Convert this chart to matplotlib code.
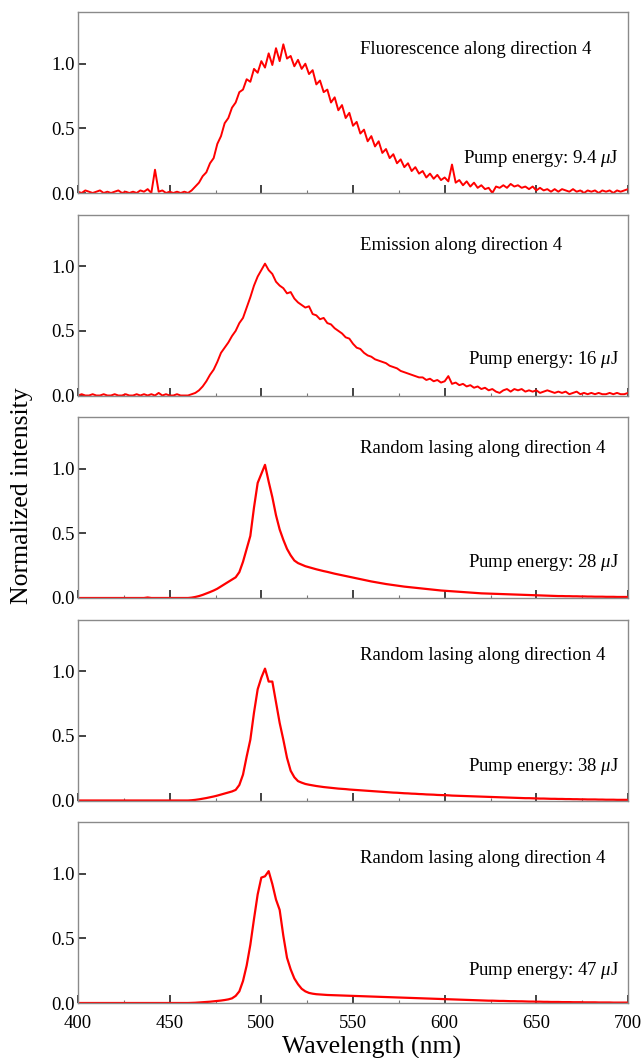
import numpy as np
import matplotlib
matplotlib.use('Agg')
from matplotlib import pyplot as plt
from matplotlib.ticker import MultipleLocator

plt.rcParams['font.family'] = ['Liberation Serif', 'DejaVu Serif']
plt.rcParams['mathtext.fontset'] = 'custom'
plt.rcParams['mathtext.rm'] = 'Liberation Serif'
plt.rcParams['mathtext.it'] = 'Liberation Serif:italic'

# wavelength grid, 2 nm steps
wavelength = np.arange(400, 701, 2)

# spectra (rows of 10 = 20 nm)
fluor_9p4 = [
    0.01, 0.00, 0.02, 0.01, 0.00, 0.01, 0.02, 0.00, 0.01, 0.00,
    0.01, 0.02, 0.00, 0.01, 0.00, 0.01, 0.00, 0.02, 0.01, 0.03,
    0.00, 0.18, 0.01, 0.02, 0.00, 0.01, 0.00, 0.01, 0.00, 0.01,
    0.00, 0.02, 0.05, 0.08, 0.13, 0.16, 0.23, 0.27, 0.38, 0.44,
    0.54, 0.58, 0.66, 0.70, 0.78, 0.80, 0.88, 0.86, 0.96, 0.93,
    1.02, 0.97, 1.08, 0.99, 1.12, 1.02, 1.15, 1.04, 1.06, 0.98,
    1.03, 0.96, 1.00, 0.92, 0.95, 0.84, 0.87, 0.78, 0.80, 0.70,
    0.74, 0.64, 0.68, 0.58, 0.62, 0.52, 0.55, 0.46, 0.49, 0.40,
    0.44, 0.36, 0.40, 0.31, 0.34, 0.27, 0.30, 0.23, 0.26, 0.20,
    0.23, 0.17, 0.20, 0.15, 0.17, 0.12, 0.15, 0.11, 0.14, 0.10,
    0.12, 0.09, 0.22, 0.08, 0.10, 0.06, 0.09, 0.05, 0.08, 0.04,
    0.06, 0.03, 0.04, 0.00, 0.05, 0.04, 0.06, 0.04, 0.07, 0.05,
    0.06, 0.04, 0.05, 0.03, 0.05, 0.02, 0.04, 0.02, 0.03, 0.01,
    0.03, 0.01, 0.03, 0.02, 0.01, 0.03, 0.01, 0.02, 0.00, 0.02,
    0.01, 0.02, 0.00, 0.02, 0.01, 0.02, 0.00, 0.02, 0.01, 0.02,
    0.03]

emis_16 = [
    0.00, 0.01, 0.00, 0.00, 0.01, 0.00, 0.00, 0.01, 0.00, 0.00,
    0.01, 0.00, 0.00, 0.01, 0.00, 0.00, 0.01, 0.00, 0.01, 0.00,
    0.01, 0.00, 0.02, 0.00, 0.01, 0.00, 0.00, 0.01, 0.00, 0.00,
    0.00, 0.01, 0.02, 0.04, 0.07, 0.11, 0.16, 0.20, 0.26, 0.33,
    0.37, 0.41, 0.46, 0.50, 0.56, 0.60, 0.68, 0.76, 0.85, 0.92,
    0.97, 1.02, 0.97, 0.94, 0.88, 0.85, 0.83, 0.79, 0.80, 0.75,
    0.72, 0.70, 0.68, 0.69, 0.63, 0.62, 0.59, 0.60, 0.56, 0.55,
    0.52, 0.50, 0.48, 0.45, 0.44, 0.40, 0.37, 0.36, 0.33, 0.31,
    0.30, 0.28, 0.27, 0.26, 0.25, 0.23, 0.22, 0.21, 0.19, 0.18,
    0.17, 0.16, 0.15, 0.14, 0.14, 0.12, 0.13, 0.11, 0.12, 0.10,
    0.11, 0.15, 0.09, 0.10, 0.08, 0.09, 0.07, 0.08, 0.06, 0.07,
    0.05, 0.06, 0.04, 0.05, 0.03, 0.02, 0.04, 0.05, 0.03, 0.05,
    0.04, 0.05, 0.03, 0.04, 0.03, 0.04, 0.02, 0.03, 0.04, 0.03,
    0.02, 0.03, 0.02, 0.03, 0.01, 0.02, 0.03, 0.01, 0.02, 0.01,
    0.02, 0.01, 0.02, 0.01, 0.01, 0.02, 0.01, 0.02, 0.01, 0.01,
    0.02]

lasing_28 = [
    0.000, 0.000, 0.000, 0.000, 0.000, 0.000, 0.000, 0.000, 0.000, 0.000,
    0.000, 0.000, 0.000, 0.000, 0.000, 0.000, 0.000, 0.000, 0.000, 0.004,
    0.000, 0.000, 0.000, 0.000, 0.000, 0.000, 0.000, 0.000, 0.000, 0.000,
    0.000, 0.003, 0.008, 0.015, 0.024, 0.035, 0.046, 0.058, 0.072, 0.090,
    0.108, 0.125, 0.142, 0.160, 0.200, 0.280, 0.380, 0.480, 0.700, 0.890,
    0.960, 1.030, 0.900, 0.780, 0.640, 0.530, 0.450, 0.380, 0.330, 0.290,
    0.270, 0.258, 0.246, 0.238, 0.230, 0.222, 0.215, 0.208, 0.202, 0.195,
    0.188, 0.182, 0.176, 0.170, 0.164, 0.158, 0.152, 0.146, 0.140, 0.134,
    0.128, 0.123, 0.118, 0.113, 0.108, 0.104, 0.100, 0.096, 0.092, 0.088,
    0.085, 0.082, 0.079, 0.076, 0.073, 0.070, 0.067, 0.064, 0.061, 0.058,
    0.056, 0.054, 0.052, 0.050, 0.048, 0.046, 0.044, 0.042, 0.040, 0.038,
    0.036, 0.035, 0.034, 0.033, 0.032, 0.031, 0.030, 0.029, 0.028, 0.027,
    0.026, 0.025, 0.024, 0.023, 0.022, 0.021, 0.020, 0.019, 0.018, 0.017,
    0.016, 0.015, 0.015, 0.014, 0.014, 0.013, 0.013, 0.012, 0.012, 0.011,
    0.011, 0.010, 0.010, 0.010, 0.009, 0.009, 0.009, 0.008, 0.008, 0.008,
    0.008]

lasing_38 = [
    0.000, 0.000, 0.000, 0.000, 0.000, 0.000, 0.000, 0.000, 0.000, 0.000,
    0.000, 0.000, 0.000, 0.000, 0.000, 0.000, 0.000, 0.000, 0.000, 0.000,
    0.000, 0.000, 0.000, 0.000, 0.000, 0.000, 0.000, 0.000, 0.000, 0.000,
    0.000, 0.002, 0.005, 0.009, 0.014, 0.019, 0.025, 0.031, 0.038, 0.046,
    0.054, 0.062, 0.070, 0.082, 0.120, 0.200, 0.340, 0.470, 0.680, 0.860,
    0.950, 1.020, 0.920, 0.920, 0.760, 0.600, 0.470, 0.330, 0.230, 0.180,
    0.150, 0.138, 0.128, 0.122, 0.117, 0.112, 0.108, 0.104, 0.101, 0.098,
    0.095, 0.092, 0.090, 0.088, 0.085, 0.083, 0.081, 0.079, 0.077, 0.075,
    0.073, 0.071, 0.069, 0.067, 0.065, 0.063, 0.061, 0.060, 0.058, 0.056,
    0.055, 0.053, 0.052, 0.050, 0.049, 0.047, 0.046, 0.045, 0.043, 0.042,
    0.041, 0.040, 0.038, 0.037, 0.036, 0.035, 0.034, 0.033, 0.032, 0.031,
    0.030, 0.029, 0.028, 0.027, 0.026, 0.025, 0.024, 0.023, 0.022, 0.021,
    0.020, 0.019, 0.018, 0.018, 0.017, 0.016, 0.015, 0.015, 0.014, 0.013,
    0.013, 0.012, 0.012, 0.011, 0.011, 0.010, 0.010, 0.009, 0.009, 0.008,
    0.008, 0.008, 0.007, 0.007, 0.006, 0.006, 0.006, 0.005, 0.005, 0.005,
    0.005]

lasing_47 = [
    0.000, 0.000, 0.000, 0.000, 0.000, 0.000, 0.000, 0.000, 0.000, 0.000,
    0.000, 0.000, 0.000, 0.000, 0.000, 0.000, 0.000, 0.000, 0.000, 0.000,
    0.000, 0.000, 0.000, 0.000, 0.000, 0.000, 0.000, 0.000, 0.000, 0.000,
    0.000, 0.001, 0.002, 0.004, 0.006, 0.008, 0.010, 0.013, 0.016, 0.019,
    0.023, 0.028, 0.036, 0.055, 0.090, 0.170, 0.290, 0.450, 0.650, 0.840,
    0.970, 0.980, 1.020, 0.920, 0.800, 0.720, 0.520, 0.350, 0.260, 0.190,
    0.145, 0.110, 0.090, 0.078, 0.072, 0.068, 0.066, 0.064, 0.062, 0.061,
    0.060, 0.059, 0.058, 0.057, 0.056, 0.055, 0.054, 0.053, 0.052, 0.051,
    0.050, 0.049, 0.048, 0.047, 0.046, 0.045, 0.044, 0.043, 0.042, 0.041,
    0.040, 0.039, 0.038, 0.037, 0.036, 0.035, 0.034, 0.033, 0.032, 0.031,
    0.030, 0.029, 0.028, 0.027, 0.026, 0.025, 0.024, 0.023, 0.022, 0.021,
    0.020, 0.019, 0.018, 0.018, 0.017, 0.016, 0.016, 0.015, 0.014, 0.014,
    0.013, 0.013, 0.012, 0.011, 0.011, 0.010, 0.010, 0.009, 0.009, 0.008,
    0.008, 0.008, 0.007, 0.007, 0.007, 0.006, 0.006, 0.006, 0.005, 0.005,
    0.005, 0.005, 0.004, 0.004, 0.004, 0.004, 0.003, 0.003, 0.003, 0.003,
    0.003]

spectra = [fluor_9p4, emis_16, lasing_28, lasing_38, lasing_47]
titles = ['Fluorescence along direction 4', 'Emission along direction 4',
          'Random lasing along direction 4', 'Random lasing along direction 4',
          'Random lasing along direction 4']
pump = ['9.4', '16', '28', '38', '47']
title_y = [1.075, 1.125, 1.12, 1.09, 1.085]
pump_y = [0.23, 0.24, 0.24, 0.23, 0.22]
line_w = [1.4, 1.4, 1.6, 1.6, 1.6]

W, H = 641, 1058
fig = plt.figure(figsize=(W / 100, H / 100), dpi=100)

for i in range(5):
    zero_px = 193 + 202.5 * i
    ax = fig.add_axes([78 / W, 1 - zero_px / H, 550 / W, 181 / H])
    ax.plot(wavelength, spectra[i], color='red', lw=line_w[i])
    ax.set_xlim(400, 700)
    ax.set_ylim(0, 1.4)
    ax.set_yticks([0, 0.5, 1.0])
    ax.set_yticklabels(['0.0', '0.5', '1.0'])
    ax.xaxis.set_major_locator(MultipleLocator(50))
    ax.xaxis.set_minor_locator(MultipleLocator(25))
    for s in ax.spines.values():
        s.set_color('#8a8a8a')
        s.set_linewidth(1.0)
    ax.tick_params(axis='both', which='major', direction='in', length=6,
                   width=1.2, color='#222222', labelsize=13.5, pad=2.5)
    ax.tick_params(axis='x', which='major', pad=9)
    ax.tick_params(axis='x', which='minor', direction='in', length=2.5,
                   width=0.8, color='#777777')
    if i < 4:
        ax.tick_params(axis='x', labelbottom=False)
    ax.text(553.8, title_y[i], titles[i], fontsize=13.5, va='baseline')
    ax.text(695, pump_y[i], 'Pump energy: ' + pump[i] + r' $\mu$J',
            fontsize=13.5, ha='right', va='baseline')

fig.text(22 / W, 1 - 496 / H, 'Normalized intensity', rotation=90,
         fontsize=18.5, ha='center', va='center')
fig.text(371 / W, 1 - 1047 / H, 'Wavelength (nm)', fontsize=18.5,
         ha='center', va='center')

fig.savefig('out.png', dpi=100)
